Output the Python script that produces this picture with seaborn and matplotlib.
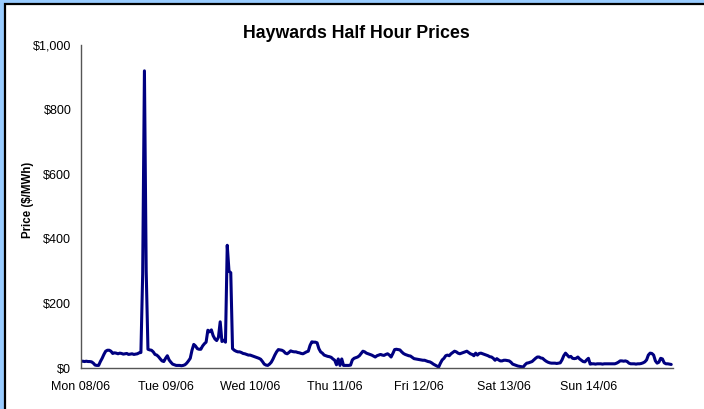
import numpy as np
import pandas as pd
import matplotlib
matplotlib.use("Agg")
import matplotlib.pyplot as plt
import matplotlib.dates as mdates
from matplotlib.ticker import FuncFormatter
from matplotlib.patches import Rectangle
import seaborn as sns

# Half-hourly prices ($/MWh), Mon 08/06 00:00 .. Sun 14/06 23:30
mon = [21, 21, 20, 21, 20, 20, 19, 15, 9, 8, 8, 20, 30, 42, 52, 55,
       55, 52, 45, 47, 46, 44, 46, 45, 43, 44, 45, 42, 43, 44, 42, 43,
       44, 47, 48, 290, 920, 300, 58, 56, 55, 50, 42, 40, 35, 28, 22, 20]
tue = [30, 38, 25, 18, 12, 10, 8, 8, 8, 7, 8, 10, 15, 22, 30, 55,
       73, 68, 60, 58, 58, 68, 75, 80, 117, 112, 118, 100, 90, 85, 95, 143,
       82, 86, 80, 380, 300, 295, 60, 55, 52, 50, 50, 48, 45, 44, 42, 40]
wed = [40, 38, 36, 34, 32, 30, 27, 20, 12, 9, 8, 12, 18, 28, 40, 50,
       57, 56, 55, 52, 46, 44, 48, 53, 51, 50, 50, 48, 47, 45, 44, 47,
       50, 52, 70, 81, 80, 80, 78, 60, 50, 46, 40, 38, 36, 35, 33, 28]
thu = [24, 10, 28, 8, 28, 8, 8, 8, 8, 9, 25, 30, 32, 34, 38, 45,
       52, 50, 46, 44, 42, 40, 37, 34, 38, 40, 42, 40, 39, 42, 44, 40,
       34, 45, 57, 58, 57, 56, 50, 45, 42, 40, 38, 37, 33, 29, 28, 27]
fri = [26, 25, 24, 24, 22, 20, 19, 16, 12, 9, 6, 3, 15, 25, 30, 38,
       40, 38, 44, 48, 52, 50, 46, 44, 46, 48, 50, 52, 48, 44, 42, 38,
       46, 40, 45, 46, 44, 42, 40, 38, 35, 34, 30, 24, 29, 25, 22, 22]
sat = [24, 24, 23, 22, 18, 12, 10, 8, 6, 5, 4, 3, 10, 15, 16, 18,
       20, 25, 30, 34, 34, 31, 30, 25, 21, 18, 16, 15, 15, 15, 14, 15,
       16, 25, 38, 46, 40, 34, 36, 30, 29, 30, 34, 28, 24, 20, 19, 25]
sun = [30, 12, 13, 13, 12, 13, 13, 13, 12, 13, 13, 13, 13, 13, 13, 13,
       15, 18, 22, 22, 21, 22, 20, 15, 13, 13, 13, 12, 13, 13, 14, 16,
       19, 25, 40, 46, 45, 40, 22, 15, 18, 30, 28, 16, 13, 13, 12, 11]

day_labels = ["Mon 08/06", "Tue 09/06", "Wed 10/06", "Thu 11/06",
              "Fri 12/06", "Sat 13/06", "Sun 14/06", ""]
y_ticks = [0, 200, 400, 600, 800, 1000]

prices = mon + tue + wed + thu + fri + sat + sun
times = pd.date_range("2009-06-08 00:00", periods=len(prices), freq="30min")
df = pd.DataFrame({"time": times, "price": prices})

sns.set_style("white")
plt.rcParams["font.family"] = ["Liberation Sans", "DejaVu Sans"]
plt.rcParams["text.color"] = "black"

fig = plt.figure(figsize=(7.04, 4.09), dpi=100)
fig.patch.set_facecolor("#99CCFF")
W, H = 704, 409
fig.patches.append(Rectangle((4.5 / W, -0.05), 1.2, (H - 4.5) / H + 0.05,
                             transform=fig.transFigure, facecolor="white",
                             edgecolor="black", linewidth=1.6, zorder=-5))

ax = fig.add_axes([81 / W, 1 - 368 / H, (673 - 81) / W, (368 - 45) / H])
ax.set_zorder(2)
ax.set_facecolor("none")

sns.lineplot(data=df, x="time", y="price", ax=ax, color="#000080",
             linewidth=2.2)

ax.set_xlim(pd.Timestamp("2009-06-08"), pd.Timestamp("2009-06-15"))
ax.set_ylim(0, 1000)
tick_days = pd.date_range("2009-06-08", periods=8, freq="D")
ax.set_xticks(tick_days)
ax.set_xticklabels(day_labels)
ax.set_yticks(y_ticks)
ax.yaxis.set_major_formatter(FuncFormatter(lambda v, p: f"${v:,.0f}"))

for s in ["top", "right"]:
    ax.spines[s].set_visible(False)
for s in ["left", "bottom"]:
    ax.spines[s].set_color("#555555")
    ax.spines[s].set_linewidth(1.0)

ax.tick_params(axis="both", which="major", direction="out", length=3.5,
               width=1.0, color="#555555", labelsize=9, labelcolor="black")
ax.tick_params(axis="x", pad=6)
ax.tick_params(axis="y", pad=3.5)

ax.set_xlabel("")
ax.set_ylabel("")
fig.text(28 / W, 1 - 200 / H, "Price ($/MWh)", rotation=90, ha="center",
         va="center", fontsize=8.3, fontweight="bold", color="black")
fig.text(356 / W, 1 - 34 / H, "Haywards Half Hour Prices", ha="center",
         va="center", fontsize=12.8, fontweight="bold", color="black")

fig.savefig("out.png", dpi=100, facecolor=fig.get_facecolor())
